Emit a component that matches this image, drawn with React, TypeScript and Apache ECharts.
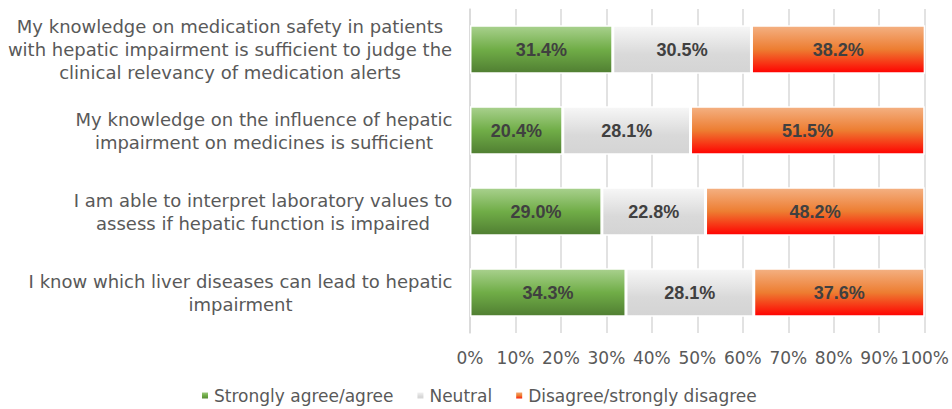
import React, { useEffect, useRef } from "react";
import * as echarts from "echarts";

const categories: string[] = [
  "My knowledge on medication safety in patients\nwith hepatic impairment is sufficient to judge the\nclinical relevancy of medication alerts",
  "My knowledge on the influence of hepatic\nimpairment on medicines is sufficient",
  "I am able to interpret laboratory values to\nassess if hepatic function is impaired",
  "I know which liver diseases can lead to hepatic\nimpairment",
];
const seriesNames: string[] = ["Strongly agree/agree", "Neutral", "Disagree/strongly disagree"];
const agreeValues: number[] = [31.4, 20.4, 29.0, 34.3];
const neutralValues: number[] = [30.5, 28.1, 22.8, 28.1];
const disagreeValues: number[] = [38.2, 51.5, 48.2, 37.6];
const tickValues: number[] = [0, 10, 20, 30, 40, 50, 60, 70, 80, 90, 100];

const FONT = '"DejaVu Sans", sans-serif';
const BOLD_FONT = '"Liberation Sans", Arial, sans-serif';

function grad(stops: [number, string][]) {
  return new echarts.graphic.LinearGradient(
    0, 0, 0, 1,
    stops.map(([offset, color]) => ({ offset, color }))
  );
}

export default function App() {
  const ref = useRef<HTMLDivElement>(null);
  useEffect(() => {
    if (!ref.current) return;
    const chart = echarts.init(ref.current, undefined, { renderer: "svg" });

    const canvas = document.createElement("canvas");
    const ctx = canvas.getContext("2d")!;
    ctx.font = `18px ${FONT}`;
    const rich: Record<string, any> = {};
    categories.forEach((c, i) => {
      const w = Math.max(...c.split("\n").map((l) => ctx.measureText(l).width));
      rich["c" + i] = {
        width: Math.ceil(w) + 1,
        align: "center",
        fontSize: 18,
        lineHeight: 23,
        color: "#595959",
        fontFamily: FONT,
      };
    });

    const colors = [
      grad([[0, "#a9d18e"], [0.5, "#70ad47"], [1, "#507e32"]]),
      grad([[0, "#f7f7f7"], [0.6, "#d9d9d9"], [1, "#d4d4d4"]]),
      grad([[0, "#f4b183"], [0.5, "#ed7d31"], [1, "#ff0000"]]),
    ];
    const values = [agreeValues, neutralValues, disagreeValues];

    chart.setOption({
      animation: false,
      textStyle: { fontFamily: FONT },
      grid: { left: 470, right: 27, top: 9, bottom: 76, containLabel: false },
      legend: {
        data: seriesNames,
        left: 195,
        top: 382,
        itemWidth: 8,
        itemHeight: 8,
        itemGap: 22,
        icon: "rect",
        textStyle: { fontSize: 17, color: "#595959", fontFamily: FONT },
      },
      xAxis: {
        type: "value",
        min: 0,
        max: 100,
        interval: 10,
        axisLine: { show: false },
        axisTick: { show: false },
        splitLine: { show: true, lineStyle: { color: "#d9d9d9", width: 1.5 } },
        axisLabel: {
          fontSize: 17,
          color: "#595959",
          margin: 16,
          fontFamily: FONT,
          formatter: (v: number) => (tickValues.includes(v) ? v + "%" : ""),
        },
      },
      yAxis: {
        type: "category",
        data: categories,
        inverse: true,
        axisLine: { show: true, lineStyle: { color: "#d9d9d9", width: 1.5 } },
        axisTick: { show: false },
        axisLabel: {
          margin: 17,
          formatter: (v: string) => {
            const i = categories.indexOf(v);
            return v.split("\n").map((l) => `{c${i}|${l}}`).join("\n");
          },
          rich,
        },
      },
      series: seriesNames.map((name, si) => ({
        name,
        type: "bar",
        stack: "total",
        barWidth: "60%",
        data: values[si],
        itemStyle: { color: colors[si], borderColor: "#ffffff", borderWidth: 1.5 },
        label: {
          show: true,
          position: "inside",
          fontSize: 18,
          fontWeight: "bold",
          color: "#404040",
          fontFamily: BOLD_FONT,
          formatter: (p: any) => Number(p.value).toFixed(1) + "%",
        },
      })),
    });
    return () => chart.dispose();
  }, []);
  return (
    <div
      ref={ref}
      style={{ position: "absolute", left: 0, top: 0, width: 952, height: 409 }}
    />
  );
}
